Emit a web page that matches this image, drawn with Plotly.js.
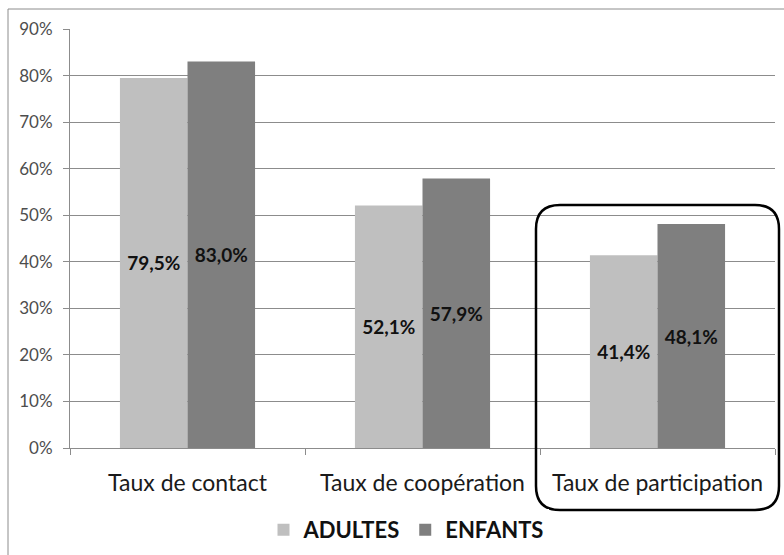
<!DOCTYPE html>
<html>
<head>
<meta charset="utf-8">
<script src="https://cdn.plot.ly/plotly-3.0.1.min.js"></script>
<style>html,body{margin:0;padding:0;background:#fff;}#chart{width:784px;height:555px;}</style>
</head>
<body>
<div id="chart"></div>
<script>
var categories = ["Taux de contact", "Taux de coopération", "Taux de participation"];
var adultes = [79.5, 52.1, 41.4];
var enfants = [83.0, 57.9, 48.1];
var seriesNames = ["ADULTES", "ENFANTS"];

function fmt(v){ return v.toFixed(1).replace('.', ',') + '%'; }

var W = 784, H = 555;
var mL = 70, mR = 9, mT = 29, mB = 107;
var pw = W - mL - mR, ph = H - mT - mB;
function px(x){ return (x - mL) / pw; }
function py(y){ return (H - mB - y) / ph; }

var FONT = "Lato, 'Open Sans', sans-serif";

var traces = [
  {type:'bar', name:seriesNames[0], x:categories, y:adultes, text:adultes.map(fmt),
   marker:{color:'#bfbfbf'}, textposition:'inside', insidetextanchor:'middle', textangle:0,
   constraintext:'none', textfont:{family:FONT, size:19, color:'#111', weight:'bold'}, hoverinfo:'none'},
  {type:'bar', name:seriesNames[1], x:categories, y:enfants, text:enfants.map(fmt),
   marker:{color:'#7f7f7f'}, textposition:'inside', insidetextanchor:'middle', textangle:0,
   constraintext:'none', textfont:{family:FONT, size:19, color:'#111', weight:'bold'}, hoverinfo:'none'}
];

// rounded rectangle around third category (pixel -> paper)
var x0 = 536, x1 = 779, y0 = 205, y1 = 510, r = 24;
function P(x, y){ return px(x).toFixed(5) + ',' + py(y).toFixed(5); }
var path = 'M' + P(x0 + r, y0) + ' L' + P(x1 - r, y0) + ' Q' + P(x1, y0) + ' ' + P(x1, y0 + r) +
  ' L' + P(x1, y1 - r) + ' Q' + P(x1, y1) + ' ' + P(x1 - r, y1) +
  ' L' + P(x0 + r, y1) + ' Q' + P(x0, y1) + ' ' + P(x0, y1 - r) +
  ' L' + P(x0, y0 + r) + ' Q' + P(x0, y0) + ' ' + P(x0 + r, y0) + ' Z';

var layout = {
  width: W, height: H,
  margin: {l: mL, r: mR, t: mT, b: mB, autoexpand: false},
  paper_bgcolor: '#fff', plot_bgcolor: '#fff',
  barmode: 'group', bargap: 0.425, bargroupgap: 0,
  showlegend: true,
  legend: {orientation: 'h', x: px(406), xanchor: 'center', y: py(530), yanchor: 'middle',
    font: {family: FONT, size: 22, color: '#111', weight: 'bold'}, itemwidth: 30, tracegroupgap: 0},
  xaxis: {type: 'category', tickson: 'boundaries', ticks: 'outside', ticklen: 6, tickcolor: '#8c8c8c',
    showline: true, linecolor: '#8c8c8c', linewidth: 1, showgrid: false, ticklabelstandoff: 14,
    automargin: false,
    tickfont: {family: FONT, size: 23, color: '#1a1a1a'}, fixedrange: true},
  yaxis: {range: [0, 90], dtick: 10, ticksuffix: '%', ticks: 'outside', ticklen: 6, tickcolor: '#8c8c8c',
    showline: true, linecolor: '#8c8c8c', linewidth: 1, gridcolor: '#8c8c8c', gridwidth: 1, zeroline: false,
    ticklabelstandoff: 7, automargin: false,
    tickfont: {family: FONT, size: 17, color: '#4d4d4d'}, fixedrange: true},
  shapes: [
    {type: 'rect', xref: 'paper', yref: 'paper', x0: px(8), x1: px(820), y0: py(9), y1: py(600),
     line: {color: '#8c8c8c', width: 1}, fillcolor: 'rgba(0,0,0,0)', layer: 'below'},
    {type: 'path', xref: 'paper', yref: 'paper', path: path, line: {color: '#000', width: 2.5}}
  ]
};

Plotly.newPlot('chart', traces, layout, {displayModeBar: false, staticPlot: true});
</script>
</body>
</html>
